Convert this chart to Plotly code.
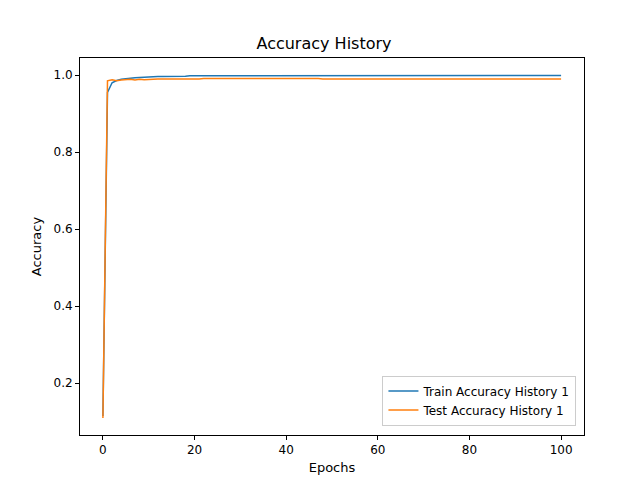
import plotly.graph_objects as go

epochs = list(range(101))
train_acc = [0.115, 0.955, 0.980, 0.986, 0.989, 0.991, 0.992, 0.993, 0.994, 0.994,
             0.995, 0.995, 0.996, 0.996, 0.996, 0.997, 0.997, 0.997, 0.997, 0.998,
             0.998, 0.998, 0.998, 0.998, 0.998, 0.998, 0.998, 0.999, 0.999, 0.999,
             0.999, 0.999, 0.999, 0.999, 0.999, 0.999, 0.999, 0.999, 0.999, 0.999,
             0.999, 0.999, 0.999, 0.999, 0.999, 0.999, 0.999, 0.999, 0.999, 0.999,
             0.999, 0.999, 0.999, 0.999, 0.999, 0.999, 0.999, 0.999, 0.999, 0.999,
             0.999, 0.999, 0.999, 0.999, 0.999, 0.999, 0.999, 0.999, 0.999, 0.999,
             0.999, 0.999, 0.999, 0.999, 0.999, 0.999, 0.999, 0.999, 0.999, 0.999,
             0.999, 0.999, 0.999, 0.999, 0.999, 0.999, 0.999, 0.999, 0.999, 0.999,
             0.999, 0.999, 0.999, 0.999, 0.999, 0.999, 0.999, 0.999, 0.999, 0.999, 0.999]
test_acc = [0.110, 0.985, 0.988, 0.985, 0.987, 0.988, 0.989, 0.987, 0.989, 0.988,
            0.989, 0.989, 0.990, 0.990, 0.990, 0.990, 0.989, 0.989, 0.990, 0.990,
            0.990, 0.990, 0.991, 0.991, 0.992, 0.991, 0.991, 0.992, 0.991, 0.991,
            0.991, 0.991, 0.991, 0.991, 0.991, 0.991, 0.991, 0.991, 0.991, 0.991,
            0.991, 0.991, 0.991, 0.991, 0.991, 0.991, 0.991, 0.991, 0.990, 0.990,
            0.991, 0.991, 0.991, 0.991, 0.991, 0.991, 0.990, 0.990, 0.990, 0.990,
            0.990, 0.990, 0.990, 0.990, 0.990, 0.990, 0.990, 0.990, 0.990, 0.990,
            0.990, 0.990, 0.990, 0.990, 0.990, 0.990, 0.990, 0.990, 0.990, 0.990,
            0.990, 0.990, 0.990, 0.990, 0.990, 0.990, 0.990, 0.990, 0.990, 0.990,
            0.990, 0.990, 0.990, 0.990, 0.990, 0.990, 0.990, 0.990, 0.990, 0.990, 0.990]

fig = go.Figure()
fig.add_trace(go.Scatter(x=epochs, y=train_acc, mode="lines", name="Train Accuracy History 1",
                         line=dict(color="#1f77b4", width=1.5)))
fig.add_trace(go.Scatter(x=epochs, y=test_acc, mode="lines", name="Test Accuracy History 1",
                         line=dict(color="#ff7f0e", width=1.5)))

axis = dict(showgrid=False, zeroline=False, showline=True, mirror=True, linecolor="black",
            linewidth=1, ticks="outside", ticklen=4, tickcolor="black", automargin=False,
            tickfont=dict(size=12, color="black"))
fig.update_layout(
    width=632, height=472,
    margin=dict(l=72, r=56, t=50, b=45),
    paper_bgcolor="white", plot_bgcolor="white",
    font=dict(family="DejaVu Sans", color="black"),
    title=dict(text="Accuracy History", x=0.5, xanchor="center", y=0.926, yanchor="middle",
               font=dict(size=16)),
    xaxis=dict(axis, title=dict(text="Epochs", font=dict(size=13), standoff=6),
               range=[-5, 105], tickvals=[0, 20, 40, 60, 80, 100]),
    yaxis=dict(axis, title=dict(text="Accuracy", font=dict(size=13), standoff=8),
               range=[0.0657, 1.0443], tickvals=[0.2, 0.4, 0.6, 0.8, 1.0], tickformat=".1f"),
    legend=dict(x=0.985, y=0.025, xanchor="right", yanchor="bottom",
                bordercolor="#cccccc", borderwidth=1, bgcolor="rgba(255,255,255,0.8)",
                font=dict(size=12)),
)
fig.write_html("out.html")
